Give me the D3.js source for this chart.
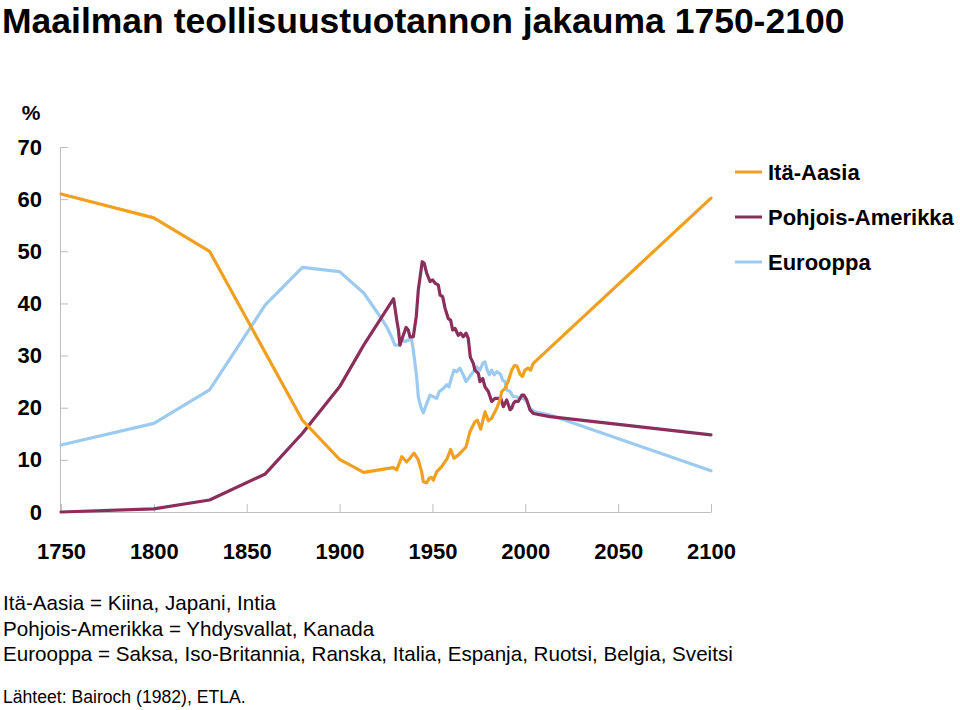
<!DOCTYPE html>
<html><head><meta charset="utf-8">
<script src="https://cdn.jsdelivr.net/npm/d3@7"></script>
<style>
body{margin:0;background:#fff;}
svg text{font-family:"Liberation Sans",Arial,Helvetica,sans-serif;}
</style></head>
<body><svg id="c" width="960" height="710"></svg>
<script>
// ---- data ----
const seriesNames = ["Itä-Aasia","Pohjois-Amerikka","Eurooppa"];
const xTicks = [1750,1800,1850,1900,1950,2000,2050,2100];
const yTicks = [0,10,20,30,40,50,60,70];

const eastAsiaYears = [1750,1800,1830,1880,1900,1913,1928.9,1930.8,1933.5,1936.1,1937.9,1940.1,1942.4,1944.2,1945.1,1946.9,1948.3,1949.6,1950.5,1952.3,1955.0,1958.0,1959.8,1961.6,1963.9,1966.6,1968.1,1970.2,1972.9,1974.2,1976.0,1978.3,1980.1,1981.9,1984.6,1986.4,1987.3,1989.1,1990.9,1992.7,1994.2,1995.5,1997.2,1998.5,1999.8,2001.6,2002.9,2004.3,2100];
const eastAsiaValues = [61.0,56.4,50.0,17.6,10.1,7.6,8.5,8.1,10.6,9.6,10.3,11.3,10.0,7.7,5.8,5.6,6.5,6.6,6.1,7.7,8.7,10.3,12.0,10.3,10.9,11.9,12.5,15.4,17.3,17.6,15.9,19.2,17.5,18.0,19.9,21.5,23.1,23.7,25.2,27.2,28.1,28.0,26.4,26.0,27.2,27.6,27.2,28.5,60.2];

const northAmericaYears = [1750,1800,1830,1860,1880,1900,1913,1929.1,1930.8,1931.7,1932.5,1933.4,1935.8,1937.0,1937.9,1939.7,1941.3,1942.4,1944.5,1945.6,1946.9,1948.7,1950.1,1951.4,1953.2,1954.1,1955.5,1956.8,1958.5,1959.8,1960.9,1962.2,1963.9,1965.2,1966.6,1968.1,1969.3,1970.4,1972.0,1972.9,1974.7,1975.6,1977.1,1978.3,1980.1,1981.9,1983.7,1985.5,1986.8,1988.2,1990.0,1991.8,1992.7,1993.6,1994.5,1996.2,1998.1,1999.3,2000.8,2002.5,2004.3,2013.3,2100];
const northAmericaValues = [0.0,0.6,2.3,7.3,15.1,24.0,32.0,40.9,36.8,34.9,32.0,33.0,35.4,34.9,33.6,33.6,37.5,42.6,48.0,47.7,45.8,44.2,44.5,43.9,43.5,41.6,41.3,39.1,37.1,36.8,34.9,35.2,33.9,34.3,33.6,34.3,33.3,29.7,28.5,27.2,26.6,25.0,25.6,24.0,23.1,21.2,21.8,21.8,21.8,20.2,21.5,19.6,19.9,20.8,21.2,21.2,22.4,22.4,21.5,19.6,18.9,18.3,14.8];

const europeYears = [1750,1800,1830,1860,1880,1900,1913,1921.8,1925.4,1928.0,1929.8,1931.7,1933.5,1935.2,1937.0,1938.8,1939.7,1941.5,1942.4,1943.7,1945.1,1946.9,1948.7,1950.5,1952.3,1953.7,1955.9,1957.7,1958.9,1960.4,1961.6,1963.1,1964.8,1966.6,1968.1,1969.9,1972.0,1973.8,1975.6,1977.1,1978.3,1979.5,1980.6,1981.9,1983.2,1984.6,1986.0,1986.8,1987.8,1989.1,1990.0,1991.8,1993.6,1995.4,1997.2,1998.9,2000.8,2002.5,2005.2,2013.3,2100];
const europeValues = [12.85,17.0,23.4,39.7,46.9,46.1,42.0,37.5,35.5,33.6,32.0,32.0,33.0,32.7,33.0,33.0,31.1,25.9,22.1,20.2,19.0,20.8,22.4,22.1,21.8,23.1,23.7,24.4,24.0,25.9,27.2,26.9,27.6,26.3,25.0,25.9,26.9,27.8,27.2,28.5,28.8,27.2,26.3,27.2,26.3,26.9,26.6,26.3,25.3,25.0,23.4,23.1,22.1,22.1,21.8,21.8,21.2,19.9,19.2,18.6,7.9];

const footnotes = ["Itä-Aasia = Kiina, Japani, Intia","Pohjois-Amerikka = Yhdysvallat, Kanada","Eurooppa = Saksa, Iso-Britannia, Ranska, Italia, Espanja, Ruotsi, Belgia, Sveitsi"];
const sourceText = "Lähteet: Bairoch (1982), ETLA.";
const titleText = "Maailman teollisuustuotannon jakauma 1750-2100";

// ---- drawing ----
const colors = ["#F0A021","#8A2E5B","#9DCAF0"];
const svg = d3.select("#c");
const x = d3.scaleLinear().domain([1750,2100]).range([61,711]);
const y = d3.scaleLinear().domain([0,70]).range([512,147]);

svg.append("text").attr("x",2).attr("y",33).attr("font-size",35.5).attr("font-weight","bold").attr("fill","#000").text(titleText);

const gy = svg.append("g").attr("transform","translate(60,0)")
  .call(d3.axisLeft(y).tickValues(yTicks).tickSizeInner(-8).tickSizeOuter(0).tickPadding(18).tickFormat(d3.format("d")));
const gx = svg.append("g").attr("transform","translate(0,512)")
  .call(d3.axisBottom(x).tickValues(xTicks).tickSizeInner(-8).tickSizeOuter(0).tickPadding(31).tickFormat(d3.format("d")));
[gy,gx].forEach(g=>{
  g.selectAll("path,line").attr("stroke","#BDBDBD").attr("stroke-width",1);
  g.selectAll("text").attr("font-size",22).attr("font-weight","bold").attr("fill","#000")
   .attr("font-family","'Liberation Sans',Arial,sans-serif");
});
svg.append("text").attr("x",31).attr("y",120).attr("text-anchor","middle").attr("font-size",21).attr("font-weight","bold").text("%");

const series = [
  {name:seriesNames[0], years:eastAsiaYears, values:eastAsiaValues},
  {name:seriesNames[1], years:northAmericaYears, values:northAmericaValues},
  {name:seriesNames[2], years:europeYears, values:europeValues}
];
const line = d3.line().x(d=>x(d[0])).y(d=>y(d[1]));
// draw order: Europe, N. America, East Asia on top
[2,1,0].forEach(i=>{
  const s = series[i];
  svg.append("path").datum(d3.zip(s.years,s.values))
    .attr("d",line).attr("fill","none").attr("stroke",colors[i])
    .attr("stroke-width",3.2).attr("stroke-linejoin","round").attr("stroke-linecap","round");
});

// legend
const lg = svg.append("g");
series.forEach((s,i)=>{
  const yy = 172 + i*45;
  lg.append("line").attr("x1",735).attr("x2",762).attr("y1",yy).attr("y2",yy).attr("stroke",colors[i]).attr("stroke-width",3);
  lg.append("text").attr("x",768).attr("y",yy).attr("dy","0.36em").attr("font-size",22).attr("font-weight","bold").text(s.name);
});

// footnotes
footnotes.forEach((t,i)=>{
  svg.append("text").attr("x",3).attr("y",610+i*25.5).attr("font-size",20.6).attr("fill","#000").text(t);
});
svg.append("text").attr("x",3).attr("y",703).attr("font-size",17.6).attr("fill","#000").text(sourceText);
</script></body></html>
